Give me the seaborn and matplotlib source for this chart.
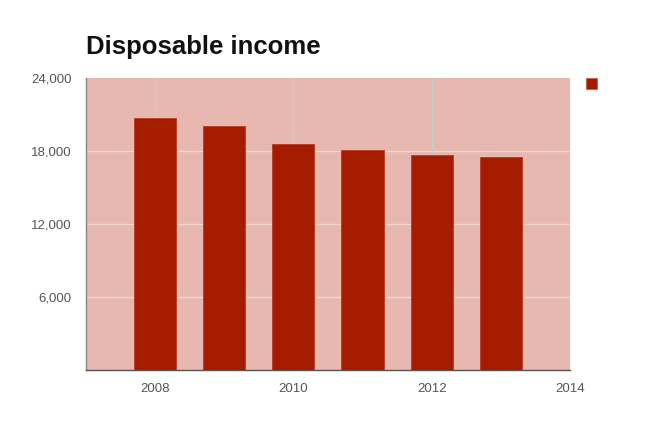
"""
Disposable income bar chart (recreated)
"""

import matplotlib
matplotlib.use("Agg")
import matplotlib.pyplot as plt
import matplotlib.patches as mpatches
import seaborn as sns

YEARS  = [2008, 2009, 2010, 2011, 2012, 2013]
INCOME = [20740, 20030, 18550, 18110, 17670, 17510]
YTICKS = [6000, 12000, 18000, 24000]
XTICKS = [2008, 2010, 2012, 2014]

BAR_COLOR = "#a61c00"
BG_COLOR  = "#e6b8af"

sns.set_theme(style="white")
plt.rcParams["font.family"] = ["Liberation Sans", "DejaVu Sans"]

fig = plt.figure(figsize=(6.5, 4.26), dpi=100)
ax = fig.add_axes([0.132, 0.131, 0.745, 0.686])

sns.barplot(x=YEARS, y=INCOME, native_scale=True, width=0.61,
            color=BAR_COLOR, saturation=1, edgecolor="#b83a22",
            linewidth=0.6, ax=ax, zorder=3)

ax.set_facecolor(BG_COLOR)
ax.set_xlim(2007, 2014)
ax.set_ylim(0, 24000)

ax.set_yticks(YTICKS)
ax.set_yticklabels([f"{v:,}" for v in YTICKS])
ax.set_xticks(XTICKS)
ax.set_xticklabels([str(v) for v in XTICKS])
ax.tick_params(axis="both", length=0, labelsize=9.5, labelcolor="#555555")
ax.tick_params(axis="y", pad=10)
ax.tick_params(axis="x", pad=9)

# horizontal grid pale, vertical grid grey
for y in YTICKS[:-1]:
    ax.axhline(y, color="#f4d3c9", linewidth=1, zorder=1)
for x in XTICKS[:-1]:
    ax.axvline(x, color="#cccccc", linewidth=0.8, zorder=1)

for side in ["top", "right"]:
    ax.spines[side].set_visible(False)
ax.spines["left"].set_color("#888888")
ax.spines["bottom"].set_color("#555555")
ax.spines["left"].set_linewidth(1)
ax.spines["bottom"].set_linewidth(1)

ax.set_xlabel("")
ax.set_ylabel("")

ax.text(0.0, 1.065, "Disposable income", transform=ax.transAxes,
        fontsize=18.5, fontweight="bold", color="#111111",
        ha="left", va="bottom")

# legend: just a colour swatch, no label
handle = mpatches.Patch(facecolor=BAR_COLOR, edgecolor="#c85a45", linewidth=0.6)
ax.legend(handles=[handle], labels=[""], loc="upper left",
          bbox_to_anchor=(1.02, 1.02), frameon=False,
          handlelength=0.75, handleheight=0.75, borderaxespad=0)

plt.savefig("out.png", dpi=100)
plt.close()
